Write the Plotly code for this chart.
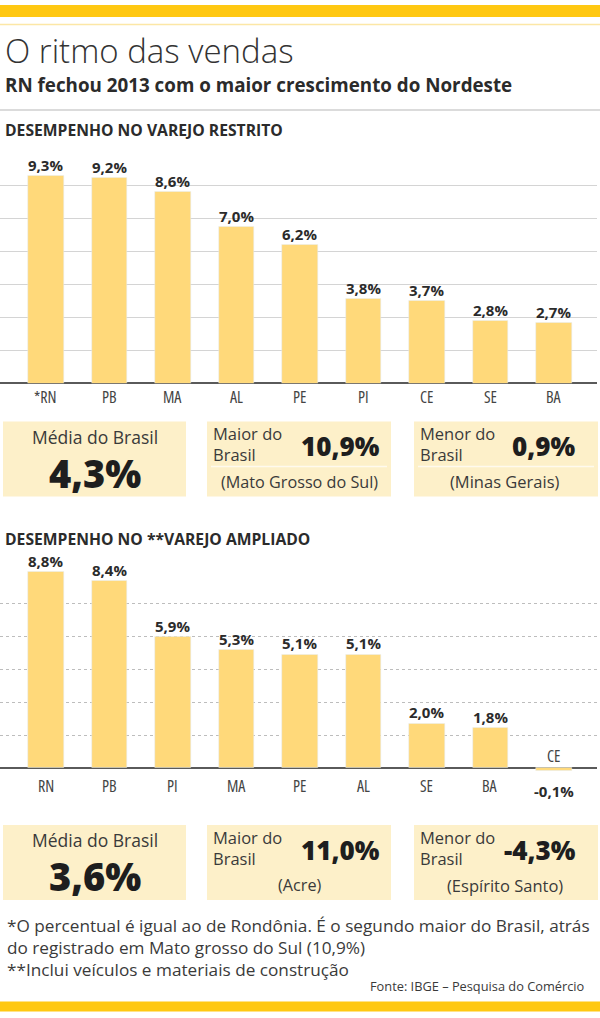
import plotly.graph_objects as go

W, H = 600, 1018

# ---------------- data ----------------
restrito_states = ["*RN", "PB", "MA", "AL", "PE", "PI", "CE", "SE", "BA"]
restrito_values = [9.3, 9.2, 8.6, 7.0, 6.2, 3.8, 3.7, 2.8, 2.7]

ampliado_states = ["RN", "PB", "PI", "MA", "PE", "AL", "SE", "BA", "CE"]
ampliado_values = [8.8, 8.4, 5.9, 5.3, 5.1, 5.1, 2.0, 1.8, -0.1]

restrito_media = 4.3
restrito_maior = 10.9
restrito_maior_uf = "Mato Grosso do Sul"
restrito_menor = 0.9
restrito_menor_uf = "Minas Gerais"

ampliado_media = 3.6
ampliado_maior = 11.0
ampliado_maior_uf = "Acre"
ampliado_menor = -4.3
ampliado_menor_uf = "Espírito Santo"

# ---------------- style ----------------
FONT = "Open Sans, DejaVu Sans, sans-serif"
TXT = "#2b2b2b"
BAR = "#FFD97A"
BOX = "#FDF0C9"
GOLD = "#FFC812"
GRID_STEP = 1.476


def cond(s, stretch=100):
    if stretch >= 100:
        return s
    return f'<span style="font-stretch:{stretch}%">{s}</span>'


def fmt(v):
    return f"{v:.1f}".replace(".", ",") + "%"


def X(px):
    return px / W


def Y(py):
    return 1 - py / H


fig = go.Figure()

fig.add_trace(go.Bar(x=restrito_states, y=restrito_values, marker_color=BAR,
                     width=0.56, xaxis="x", yaxis="y", hoverinfo="skip"))
fig.add_trace(go.Bar(x=ampliado_states, y=ampliado_values, marker_color=BAR,
                     width=0.56, xaxis="x2", yaxis="y2", hoverinfo="skip"))

annotations = []
shapes = []

VAL_FONT = dict(family=FONT, size=15, color=TXT, weight=700)
CAT_FONT = dict(family=FONT, size=16, color="#444")

# value + category labels
for st, v in zip(restrito_states, restrito_values):
    annotations.append(dict(x=st, y=v, xref="x", yref="y", text=fmt(v), showarrow=False,
                            yanchor="bottom", yshift=-1, font=VAL_FONT))
    annotations.append(dict(x=st, y=0, xref="x", yref="y", text=cond(st, 75), showarrow=False,
                            yanchor="middle", yshift=-14, font=CAT_FONT))
for st, v in zip(ampliado_states, ampliado_values):
    if v >= 0:
        annotations.append(dict(x=st, y=v, xref="x2", yref="y2", text=fmt(v), showarrow=False,
                                yanchor="bottom", yshift=-1, font=VAL_FONT))
        annotations.append(dict(x=st, y=0, xref="x2", yref="y2", text=cond(st, 75), showarrow=False,
                                yanchor="middle", yshift=-18, font=CAT_FONT))
    else:
        annotations.append(dict(x=st, y=v, xref="x2", yref="y2", text=fmt(v), showarrow=False,
                                yanchor="middle", yshift=-21, font=VAL_FONT))
        annotations.append(dict(x=st, y=0, xref="x2", yref="y2", text=cond(st, 75), showarrow=False,
                                yanchor="middle", yshift=12, font=CAT_FONT))


def txt(text, x, y, size, anchor="left", weight=400, color=TXT, stretch=100):
    annotations.append(dict(x=X(x), y=Y(y), xref="paper", yref="paper", text=cond(text, stretch),
                            showarrow=False, xanchor=anchor, yanchor="middle", align=anchor,
                            font=dict(family=FONT, size=size, color=color, weight=weight)))


def rect(x0, y0, x1, y1, color):
    shapes.append(dict(type="rect", xref="paper", yref="paper", x0=X(x0), x1=X(x1),
                       y0=Y(y1), y1=Y(y0), fillcolor=color, line=dict(width=0), layer="below"))


def hline(x0, x1, y, color, width=1):
    shapes.append(dict(type="line", xref="paper", yref="paper", x0=X(x0), x1=X(x1),
                       y0=Y(y), y1=Y(y), line=dict(color=color, width=width)))


# header
rect(0, 5, 600, 17, GOLD)
hline(0, 600, 24.5, "#FCE7A6", 1.5)
txt("O ritmo das vendas", 3, 51, 33, color="#333", weight=300)
txt("RN fechou 2013 com o maior crescimento do Nordeste", 3, 85, 18.8, weight=700)
hline(0, 600, 110, "#CFCFCF", 1.5)
txt("DESEMPENHO NO VAREJO RESTRITO", 3, 130, 15.7, weight=700)
txt("DESEMPENHO NO **VAREJO AMPLIADO", 3, 539, 15.7, weight=700)

GRAY = "#3a3a3a"
DARK = "#1e1e1e"


def boxes(top, bottom, media, maior, maior_uf, menor, menor_uf, sep):
    rect(3, top, 186, bottom, BOX)
    rect(207, top, 391, bottom, BOX)
    rect(414, top, 598, bottom, BOX)
    txt("Média do Brasil", 94.5, top + 15, 17.5, anchor="center", color=GRAY)
    txt(fmt(media), 94.5, top + 51, 38, anchor="center", weight=800, color=DARK)
    txt("Maior do<br>Brasil", 211, top + 22.5, 16.5, color=GRAY)
    txt(fmt(maior), 382, top + 25, 26, anchor="right", weight=800, color=DARK)
    txt(f"({maior_uf})", 299, top + 60, 16.2, anchor="center", color=GRAY)
    txt("Menor do<br>Brasil", 418, top + 22.5, 16.5, color=GRAY)
    txt(fmt(menor), 578, top + 25, 26, anchor="right", weight=800, color=DARK)
    txt(f"({menor_uf})", 505, top + 60, 16.5, anchor="center", color=GRAY)
    if sep:
        hline(211, 387, top + 45, "#FFFAEE", 1.5)
        hline(418, 594, top + 45, "#FFFAEE", 1.5)


boxes(421.5, 496.5, restrito_media, restrito_maior, restrito_maior_uf,
      restrito_menor, restrito_menor_uf, True)
boxes(825, 900, ampliado_media, ampliado_maior, ampliado_maior_uf,
      ampliado_menor, ampliado_menor_uf, False)

# footnotes
txt("*O percentual é igual ao de Rondônia. É o segundo maior do Brasil, atrás", 5, 925, 17.2, color=GRAY)
txt("do registrado em Mato grosso do Sul (10,9%)", 5, 947, 17.2, color=GRAY)
txt("**Inclui veículos e materiais de construção", 5, 969, 17.2, color=GRAY)
txt("Fonte: IBGE – Pesquisa do Comércio", 586, 986, 12.8, anchor="right", color=GRAY)
rect(0, 1001.5, 600, 1011.5, GOLD)

xr = [-0.721, 8.68]
fig.update_layout(
    width=W, height=H, margin=dict(l=0, r=0, t=0, b=0),
    paper_bgcolor="white", plot_bgcolor="white", showlegend=False, bargap=0,
    annotations=annotations, shapes=shapes,
    xaxis=dict(domain=[0, X(597)], range=xr, showticklabels=False, showgrid=False,
               zeroline=False, fixedrange=True),
    yaxis=dict(domain=[Y(383.3), Y(152.7)], range=[0, 10.34], tick0=0, dtick=GRID_STEP,
               showticklabels=False, showgrid=True, gridcolor="#D4D4D4", gridwidth=1,
               zeroline=True, zerolinecolor="#5a5a5a", zerolinewidth=2, fixedrange=True),
    xaxis2=dict(domain=[0, X(597)], range=xr, showticklabels=False, showgrid=False,
                zeroline=False, anchor="y2", fixedrange=True),
    yaxis2=dict(domain=[Y(801), Y(570.7)], range=[-1.48, 8.86], tick0=0, dtick=GRID_STEP,
                showticklabels=False, showgrid=True, gridcolor="#BDBDBD", gridwidth=1,
                griddash="dot", anchor="x2",
                zeroline=True, zerolinecolor="#5a5a5a", zerolinewidth=2, fixedrange=True),
)

fig.write_html("out.html", config={"displayModeBar": False},
               post_script="document.body.style.margin='0';document.body.style.overflow='hidden';")
